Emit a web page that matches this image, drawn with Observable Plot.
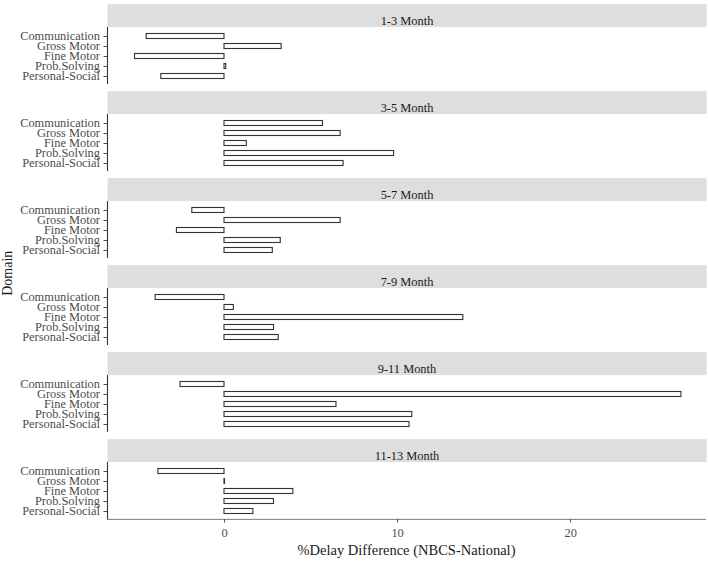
<!DOCTYPE html>
<html>
<head>
<meta charset="utf-8">
<script src="https://cdn.jsdelivr.net/npm/d3@7"></script>
<script src="https://cdn.jsdelivr.net/npm/@observablehq/plot@0.6"></script>
<style>
  html, body { margin: 0; padding: 0; background: white; }
  #chart { width: 708px; height: 562px; }
</style>
</head>
<body>
<div id="chart"></div>
<script>
// ---- Data ----
const months = ["1-3 Month", "3-5 Month", "5-7 Month", "7-9 Month", "9-11 Month", "11-13 Month"];
const domains = ["Communication", "Gross Motor", "Fine Motor", "Prob.Solving", "Personal-Social"];
const m1_3   = [-4.50,  3.30, -5.17,  0.10, -3.65];
const m3_5   = [ 5.69,  6.71,  1.29,  9.80,  6.88];
const m5_7   = [-1.86,  6.71, -2.75,  3.25,  2.79];
const m7_9   = [-3.98,  0.54, 13.80,  2.86,  3.13];
const m9_11  = [-2.54, 26.40,  6.47, 10.85, 10.69];
const m11_13 = [-3.82,  0.03,  3.98,  2.86,  1.67];
const xTicks = [0, 10, 20];
const xLabel = "%Delay Difference (NBCS-National)";
const yLabel = "Domain";

const series = [m1_3, m3_5, m5_7, m7_9, m9_11, m11_13];
const data = [];
months.forEach((m, i) => domains.forEach((d, j) => data.push({month: m, domain: d, value: series[i][j]})));

// ---- Layout ----
const W = 708, H = 562;
const mt = 26.5, mb = 42, ml = 107, mr = 2;
const fyPad = 0.341;
const fyStep = (H - mt - mb) / (months.length - fyPad);
const bw = fyStep * (1 - fyPad);
const stripH = 23.4;
const xDom = [-6.76, 27.85];

const plot = Plot.plot({
  width: W,
  height: H,
  marginTop: mt,
  marginBottom: mb,
  marginLeft: ml,
  marginRight: mr,
  style: {fontFamily: "'Liberation Serif', 'Times New Roman', serif", fontSize: "12.4px", background: "white", overflow: "visible"},
  x: {domain: xDom, label: null},
  y: {domain: domains, paddingInner: 0.5, paddingOuter: 0.35, label: null},
  fy: {domain: months, paddingInner: fyPad, paddingOuter: 0, axis: null, label: null},
  marks: [
    Plot.frame({fill: "#dedede", stroke: null, insetTop: -stripH, insetBottom: bw}),
    Plot.text(months, {fy: d => d, text: d => d, frameAnchor: "top", dy: -stripH / 2, fontSize: 12.4, fill: "#1a1a1a"}),
    Plot.barX(data, {fy: "month", y: "domain", x1: 0, x2: "value", fill: "white", stroke: "#333", strokeWidth: 1.1}),
    Plot.ruleX([xDom[0]], {stroke: "#333", strokeWidth: 1.1}),
    Plot.rect([{month: months[months.length - 1]}], {fy: "month", x1: xDom[0], x2: xDom[1], insetTop: bw - 0.55, insetBottom: -0.55, fill: "#333"}),
    Plot.axisY({tickSize: 3.5, tickPadding: 4, fontSize: 12.4, color: "#4d4d4d", label: null}),
    Plot.axisX({ticks: xTicks, tickSize: 3.5, tickPadding: 5, fontSize: 12.4, color: "#4d4d4d", label: null})
  ]
});

const svg = d3.select(plot);
svg.append("text")
  .attr("x", ml + (W - ml - mr) / 2)
  .attr("y", 551.7)
  .attr("text-anchor", "middle")
  .attr("dominant-baseline", "middle")
  .attr("font-size", 14.5)
  .attr("fill", "#1a1a1a")
  .text(xLabel);
svg.append("text")
  .attr("transform", `translate(9,${mt + (H - mt - mb) / 2}) rotate(-90)`)
  .attr("text-anchor", "middle")
  .attr("dominant-baseline", "middle")
  .attr("font-size", 14)
  .attr("fill", "#1a1a1a")
  .text(yLabel);

document.getElementById("chart").appendChild(plot);
</script>
</body>
</html>
